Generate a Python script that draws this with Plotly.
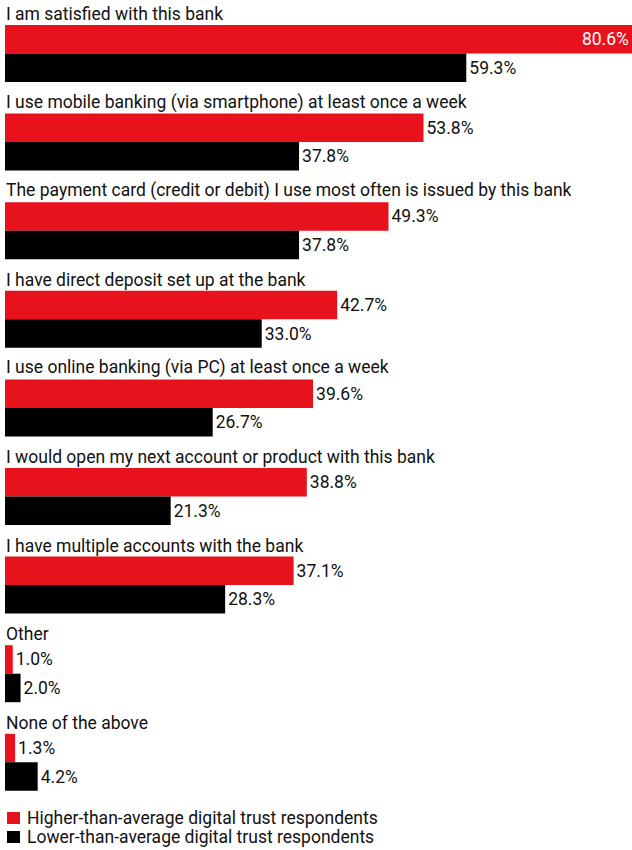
import plotly.graph_objects as go

categories = [
    "I am satisfied with this bank",
    "I use mobile banking (via smartphone) at least once a week",
    "The payment card (credit or debit) I use most often is issued by this bank",
    "I have direct deposit set up at the bank",
    "I use online banking (via PC) at least once a week",
    "I would open my next account or product with this bank",
    "I have multiple accounts with the bank",
    "Other",
    "None of the above",
]
higher = [80.6, 53.8, 49.3, 42.7, 39.6, 38.8, 37.1, 1.0, 1.3]
lower = [59.3, 37.8, 37.8, 33.0, 26.7, 21.3, 28.3, 2.0, 4.2]
series_names = [
    "Higher-than-average digital trust respondents",
    "Lower-than-average digital trust respondents",
]

RED = "#E8121D"
BLACK = "#000000"
FONT = "Roboto"
FS = 17.5

W, H = 632, 850
ML = 5
GROUP = 88.6   # pixels per category group
TOP = 25.0     # pixel top of first red bar
BAR = 28.5     # bar thickness in px

def px2y(p):
    return (p - TOP) / GROUP

def px2paperx(p):
    return (p - ML) / (W - ML)

def px2papery(p):
    return 1 - p / H

n = len(categories)
idx = list(range(n))
red_y = [i + px2y(TOP + BAR / 2) for i in idx]
blk_y = [i + px2y(TOP + BAR * 1.5) for i in idx]
bw = BAR / GROUP

red_pos = ["inside" if v > 70 else "outside" for v in higher]

fig = go.Figure()
fig.add_trace(go.Bar(
    x=higher, y=red_y, orientation="h", width=bw,
    marker=dict(color=RED, line=dict(width=0)),
    text=[f"{v:.1f}%" for v in higher], textposition=red_pos,
    insidetextanchor="end", constraintext="none",
    insidetextfont=dict(color="white", family=FONT, size=FS),
    outsidetextfont=dict(color="#111111", family=FONT, size=FS),
    name=series_names[0], showlegend=False, cliponaxis=False,
))
fig.add_trace(go.Bar(
    x=lower, y=blk_y, orientation="h", width=bw,
    marker=dict(color=BLACK, line=dict(width=0)),
    text=[f"{v:.1f}%" for v in lower], textposition="outside",
    constraintext="none",
    outsidetextfont=dict(color="#111111", family=FONT, size=FS),
    name=series_names[1], showlegend=False, cliponaxis=False,
))

annotations = []
for i, c in enumerate(categories):
    annotations.append(dict(
        text=c, xref="paper", yref="y", x=px2paperx(4), y=i + px2y(TOP + 1),
        xanchor="left", yanchor="bottom", showarrow=False,
        font=dict(family=FONT, size=FS, color="#111111"),
    ))

shapes = []
legend_rows = [(818, RED), (837, BLACK)]
for (cy, col), name in zip(legend_rows, series_names):
    shapes.append(dict(
        type="rect", xref="paper", yref="paper",
        x0=px2paperx(7), x1=px2paperx(20),
        y0=px2papery(cy - 6), y1=px2papery(cy + 6),
        fillcolor=col, line=dict(width=0),
    ))
    annotations.append(dict(
        text=name, xref="paper", yref="paper", x=px2paperx(25), y=px2papery(cy),
        xanchor="left", yanchor="middle", showarrow=False,
        font=dict(family=FONT, size=FS, color="#111111"),
    ))

fig.update_layout(
    width=W, height=H,
    margin=dict(l=ML, r=0, t=0, b=0, pad=0),
    paper_bgcolor="white", plot_bgcolor="white",
    barmode="overlay",
    xaxis=dict(range=[0, 80.6], visible=False, fixedrange=True),
    yaxis=dict(range=[px2y(H), px2y(0)], visible=False, fixedrange=True),
    annotations=annotations, shapes=shapes,
    font=dict(family=FONT, size=FS, color="#111111"),
)

fig.write_html("out.html")
